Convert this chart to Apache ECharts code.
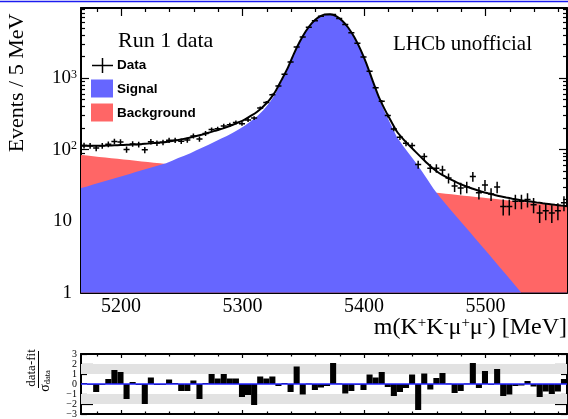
<!DOCTYPE html>
<html><head><meta charset="utf-8">
<script src="https://cdn.jsdelivr.net/npm/echarts@6/dist/echarts.min.js"></script>
<style>html,body{margin:0;padding:0;background:#fff}#c{width:568px;height:419px}</style>
</head><body><div id="c"></div>
<script>
// ---------------- data ----------------
const binCenters = [
5169.5,5174.5,5179.5,5184.5,5189.5,5194.5,5199.5,5204.5,5209.5,5214.5,
5219.5,5224.5,5229.5,5234.5,5239.5,5244.5,5249.5,5254.5,5259.5,5264.5,
5269.5,5274.5,5279.5,5284.5,5289.5,5294.5,5299.5,5304.5,5309.5,5314.5,
5319.5,5324.5,5329.5,5334.5,5339.5,5344.5,5349.5,5354.5,5359.5,5364.5,
5369.5,5374.5,5379.5,5384.5,5389.5,5394.5,5399.5,5404.5,5409.5,5414.5,
5419.5,5424.5,5429.5,5434.5,5439.5,5444.5,5449.5,5454.5,5459.5,5464.5,
5469.5,5474.5,5479.5,5484.5,5489.5,5494.5,5499.5,5504.5,5509.5,5514.5,
5519.5,5524.5,5529.5,5534.5,5539.5,5544.5,5549.5,5554.5,5559.5,5564.5];
const dataCounts = [
114,113,105,113,119,130,128,100,120,118,
99,129,123,126,135,135,131,136,155,140,
168,190,195,214,222,239,230,259,275,380,
455,581,770,1129,1672,2707,3728,5124,6328,7284,
7718,7734,6800,5567,4268,3046,1961,1237,728,472,
298,194,148,122,114,62,80,55,55,52,
40,31,29,30,42,25,32,24,30,16,
16,19,19,20,17,13,14,13,14,18];
const curveMass = [
5167,5172,5177,5182,5187,5192,5197,5202,5207,5212,
5217,5222,5227,5232,5237,5242,5247,5252,5257,5262,
5267,5272,5277,5282,5287,5292,5297,5302,5307,5312,
5317,5322,5327,5332,5337,5342,5347,5352,5357,5362,
5367,5372,5377,5382,5387,5392,5397,5402,5407,5412,
5417,5422,5427,5432,5437,5442,5447,5452,5457,5462,
5467,5472,5477,5482,5487,5492,5497,5502,5507,5512,
5517,5522,5527,5532,5537,5542,5547,5552,5557,5562,5567];
const signalCurve = [
29,30.5,32.4,34.3,36.3,38.5,40.7,43.2,45.7,48.4,
51.3,54.3,57.5,61,64.6,70,75.9,82.2,89.1,97.7,
107,117,129,141,155,172,192,217,250,292,
355,447,603,891,1318,2100,3162,4457,5794,6934,
7638,7762,7278,6281,5000,3664,2477,1545,890,520,
335,223,150,113,87.1,67.6,51.5,38.5,28.6,22,
17.5,13.9,11.1,8.83,7.03,5.6,4.46,3.55,2.82,2.24,
1.78,1.41,1.12,0.89,0.71,0.56,0.45,0.35,0.28,0.22,0.18];
const backgroundCurve = [
84,82.3,80.6,78.9,77.3,75.7,74.2,72.6,71.2,69.7,
68.3,66.9,65.5,64.2,62.8,61.5,60.3,59.1,57.8,56.7,
55.5,54.4,53.2,52.1,51.1,50,49,48,47,46.1,
45.1,44.2,43.3,42.4,41.5,40.7,39.8,39,38.2,37.4,
36.7,35.9,35.2,34.4,33.7,33,32.4,31.7,31,30.4,
29.8,29.2,28.6,28,27.4,26.8,26.3,25.7,25.2,24.7,
24.2,23.7,23.2,22.7,22.2,21.8,21.3,20.9,20.5,20,
19.6,19.2,18.8,18.4,18.1,17.7,17.3,17,16.6,16.3,16];
const pulls = [
0.1,0.0,-0.8,0.0,0.5,1.4,1.2,-1.5,0.2,-0.1,
-2.0,0.65,-0.1,0.0,0.45,0.1,-0.7,-0.7,0.35,-1.5,
0.1,1.0,0.55,1.0,0.55,0.55,-1.3,-1.1,-2.1,0.75,
0.55,0.75,-0.2,0.1,-0.8,1.75,-1.05,0.05,-0.6,-0.35,
-0.2,2.1,0.05,-0.95,-0.7,0.0,-0.6,0.95,0.65,1.2,
-0.3,-1.2,-0.8,-0.4,0.95,-2.6,1.05,-0.55,0.6,1.1,
0.05,-0.9,-0.7,0.05,2.1,-0.4,1.3,0.0,1.5,-1.2,
-1.05,-0.2,-0.15,0.3,-0.25,-1.3,-0.75,-1.0,-0.75,0.5];
const xMajorTicks = [5200,5300,5400,5500];
const xMinorTicks = [5180,5220,5240,5260,5280,5320,5340,5360,5380,5420,5440,5460,5480,5520,5540,5560];
const yMajorTicks = [1,10,100,1000];
const yMinorTicks = [2,3,4,5,6,7,8,9,20,30,40,50,60,70,80,90,200,300,400,500,600,700,800,900,2000,3000,4000,5000,6000,7000,8000,9000];
const pullLabels = [-3,-2,-1,0,1,2,3];
const pullMajorTicks = [-2,2];
const pullMinorTicks = [-3,-1,1,3];
const pullBands = [[1,2],[-2,-1]];

// ---------------- setup ----------------
const XMIN = 5167, XMAX = 5567, YMIN = 1, YMAX = 9500;
const BIN_HALF = 2.5;
const SERIF = '"Liberation Serif","Times New Roman",serif';
const SANS = '"Liberation Sans",Arial,sans-serif';
const chart = echarts.init(document.getElementById('c'), null, {renderer:'canvas'});

function xAx(grid, pos, ticks, len, line, label){
  return {type:'value', gridIndex:grid, position:pos, min:XMIN, max:XMAX,
    axisLine:{show:line, onZero:false, lineStyle:{color:'#000', width:2}},
    axisTick:{show:true, inside:true, length:len, customValues:ticks, lineStyle:{color:'#000', width:1.2}},
    axisLabel: label || {show:false},
    splitLine:{show:false}, minorTick:{show:false}};
}
function yAxLog(pos, ticks, len, line, label){
  return {type:'log', logBase:10, gridIndex:0, position:pos, min:YMIN, max:YMAX,
    axisLine:{show:line, onZero:false, lineStyle:{color:'#000', width:2}},
    axisTick:{show:true, inside:true, length:len, customValues:ticks, lineStyle:{color:'#000', width:1.2}},
    axisLabel: label || {show:false},
    splitLine:{show:false}, minorTick:{show:false}};
}
function yAxPull(pos, ticks, len, line, label){
  return {type:'value', gridIndex:1, position:pos, min:-3, max:3,
    axisLine:{show:line, onZero:false, lineStyle:{color:'#000', width:2}},
    axisTick:{show:true, inside:true, length:len, customValues:ticks, lineStyle:{color:'#000', width:1.2}},
    axisLabel: label || {show:false},
    splitLine:{show:false}, minorTick:{show:false}};
}

function areaRenderer(values, color){
  return function(params, api){
    if (params.dataIndex !== 0) return null;
    const pts = curveMass.map((m,k)=>api.coord([m, values[k]]));
    pts.push(api.coord([curveMass[curveMass.length-1], YMIN]));
    pts.push(api.coord([curveMass[0], YMIN]));
    return {type:'polygon', shape:{points:pts}, style:{fill:color}};
  };
}
function dataRenderer(params, api){
  const m = api.value(0), n = api.value(1), e = Math.sqrt(n);
  const c = api.coord([m, n]);
  const t = api.coord([m, n+e]);
  const b = api.coord([m, Math.max(n-e, YMIN)]);
  const l = api.coord([m-BIN_HALF, n]);
  const r = api.coord([m+BIN_HALF, n]);
  return {type:'group', children:[
    {type:'line', shape:{x1:c[0], y1:t[1], x2:c[0], y2:b[1]}, style:{stroke:'#000', lineWidth:1.5}},
    {type:'line', shape:{x1:l[0], y1:c[1], x2:r[0], y2:c[1]}, style:{stroke:'#000', lineWidth:1.5}}]};
}
function pullRenderer(params, api){
  const m = api.value(0), p = api.value(1);
  const a = api.coord([m-BIN_HALF, 0]), b = api.coord([m+BIN_HALF, p]);
  return {type:'rect', shape:{x:Math.min(a[0],b[0]), y:Math.min(a[1],b[1]),
    width:Math.abs(b[0]-a[0]), height:Math.max(Math.abs(b[1]-a[1]),0.8)}, style:{fill:'#000'}};
}
function bandRenderer(params, api){
  const lo = api.value(1), hi = api.value(2);
  const a = api.coord([XMIN, hi]), b = api.coord([XMAX, lo]);
  return {type:'rect', shape:{x:a[0], y:a[1], width:b[0]-a[0], height:b[1]-a[1]}, style:{fill:'#e2e2e2'}};
}

const option = {
  animation:false,
  backgroundColor:'#fff',
  grid:[
    {left:81, top:8, width:486, height:284.7, containLabel:false},
    {left:81, top:354, width:486, height:62, containLabel:false}
  ],
  xAxis:[
    xAx(0,'bottom',xMajorTicks,8,true,{show:true, customValues:xMajorTicks, fontFamily:SERIF, fontSize:20, color:'#000', margin:4,
      formatter:function(v){ return String(Math.round(v)); }}),
    xAx(0,'bottom',xMinorTicks,4,false),
    xAx(0,'top',xMajorTicks,8,true),
    xAx(0,'top',xMinorTicks,4,false),
    xAx(1,'bottom',xMajorTicks,4,true),
    xAx(1,'bottom',xMinorTicks,2.5,false),
    xAx(1,'top',xMajorTicks,4,true),
    xAx(1,'top',xMinorTicks,2.5,false)
  ],
  yAxis:[
    yAxLog('left',yMajorTicks,8,true,{show:true, customValues:yMajorTicks, margin:4, color:'#000',
      fontFamily:SERIF, fontSize:19,
      formatter:function(v){ const e = Math.round(Math.log10(v)); return e < 2 ? '{n|'+Math.round(v)+'}{sp| }' : '{n|10}{s|'+e+'}'; },
      rich:{n:{fontFamily:SERIF, fontSize:19, color:'#000'}, s:{fontFamily:SERIF, fontSize:12, color:'#000', verticalAlign:'top'}, sp:{width:5, fontSize:12}}}),
    yAxLog('left',yMinorTicks,4,false),
    yAxLog('right',yMajorTicks,8,true),
    yAxLog('right',yMinorTicks,4,false),
    yAxPull('left',pullMajorTicks,12,true,{show:true, customValues:pullLabels, margin:4, color:'#000',
      fontFamily:SERIF, fontSize:10, formatter:function(v){ return String(v).replace('-','\u2212'); }}),
    yAxPull('left',pullMinorTicks,6,false),
    yAxPull('right',pullMajorTicks,12,true),
    yAxPull('right',pullMinorTicks,6,false)
  ],
  series:[
    {type:'custom', name:'Background', xAxisIndex:0, yAxisIndex:0, clip:true, silent:true, z:1,
      data:curveMass.map((m,k)=>[m, backgroundCurve[k]]), renderItem:areaRenderer(backgroundCurve,'#ff6666')},
    {type:'custom', name:'Signal', xAxisIndex:0, yAxisIndex:0, clip:true, silent:true, z:2,
      data:curveMass.map((m,k)=>[m, signalCurve[k]]), renderItem:areaRenderer(signalCurve,'#6666ff')},
    {type:'line', name:'Fit', xAxisIndex:0, yAxisIndex:0, symbol:'none', showSymbol:false, smooth:0.2, z:4, silent:true,
      data:curveMass.map((m,k)=>[m, signalCurve[k]+backgroundCurve[k]]), lineStyle:{color:'#000', width:2}},
    {type:'custom', name:'Data', xAxisIndex:0, yAxisIndex:0, clip:true, silent:true, z:5,
      data:binCenters.map((m,i)=>[m, dataCounts[i]]), renderItem:dataRenderer},
    {type:'custom', name:'PullBands', xAxisIndex:4, yAxisIndex:4, clip:true, silent:true, z:1,
      data:pullBands.map(b=>[XMIN, b[0], b[1]]), renderItem:bandRenderer},
    {type:'custom', name:'Pull', xAxisIndex:4, yAxisIndex:4, clip:true, silent:true, z:2,
      data:binCenters.map((m,i)=>[m, pulls[i]]), renderItem:pullRenderer},
    {type:'line', name:'Zero', xAxisIndex:4, yAxisIndex:4, symbol:'none', silent:true, z:3,
      data:[[XMIN,0],[XMAX,0]], lineStyle:{color:'#2020ff', width:1.5}}
  ],
  graphic:[
    {type:'line', z:100, shape:{x1:0, y1:1.5, x2:568, y2:1.5}, style:{stroke:'#1c1cf0', lineWidth:1.5}},
    {type:'text', z:100, x:17, y:83, rotation:Math.PI/2,
      style:{text:'Events / 5 MeV', font:'22px '+SERIF, fill:'#000', textAlign:'center', textVerticalAlign:'middle', align:'center', verticalAlign:'middle'}},
    {type:'text', z:100, x:118, y:41.5,
      style:{text:'Run 1 data', font:'22px '+SERIF, fill:'#000', textAlign:'left', textVerticalAlign:'middle', align:'left', verticalAlign:'middle'}},
    {type:'text', z:100, x:462.5, y:44.5,
      style:{text:'LHCb unofficial', font:'21px '+SERIF, fill:'#000', textAlign:'center', textVerticalAlign:'middle', align:'center', verticalAlign:'middle'}},
    // legend
    {type:'line', z:100, shape:{x1:92, y1:65.5, x2:113, y2:65.5}, style:{stroke:'#000', lineWidth:1.5}},
    {type:'line', z:100, shape:{x1:102.5, y1:58, x2:102.5, y2:73}, style:{stroke:'#000', lineWidth:1.5}},
    {type:'text', z:100, x:117, y:65.5,
      style:{text:'Data', font:'bold 13.5px '+SANS, fill:'#000', textAlign:'left', textVerticalAlign:'middle', align:'left', verticalAlign:'middle'}},
    {type:'rect', z:100, shape:{x:91, y:79.5, width:22, height:18}, style:{fill:'#6666ff'}},
    {type:'text', z:100, x:117, y:89.5,
      style:{text:'Signal', font:'bold 13.5px '+SANS, fill:'#000', textAlign:'left', textVerticalAlign:'middle', align:'left', verticalAlign:'middle'}},
    {type:'rect', z:100, shape:{x:91, y:103.5, width:22, height:18}, style:{fill:'#ff6666'}},
    {type:'text', z:100, x:117, y:113.5,
      style:{text:'Background', font:'bold 13.5px '+SANS, fill:'#000', textAlign:'left', textVerticalAlign:'middle', align:'left', verticalAlign:'middle'}},
    // x title
    {type:'text', z:100, x:567, y:328,
      style:{text:'m(K{s|+}K{s|-}\u03bc{s|+}\u03bc{s|-}) [MeV]', font:'24px '+SERIF, fill:'#000',
        textAlign:'right', textVerticalAlign:'middle', align:'right', verticalAlign:'middle',
        rich:{s:{fontSize:15, fontFamily:SERIF, fill:'#000', verticalAlign:'top'}}}},
    // pull title
    {type:'text', z:100, x:32, y:368, rotation:Math.PI/2,
      style:{text:'data-fit', font:'13px '+SERIF, fill:'#000', textAlign:'center', textVerticalAlign:'middle', align:'center', verticalAlign:'middle'}},
    {type:'line', z:100, shape:{x1:38.5, y1:351, x2:38.5, y2:388}, style:{stroke:'#000', lineWidth:1}},
    {type:'text', z:100, x:45, y:381, rotation:Math.PI/2,
      style:{text:'\u03c3{d|data}', font:'14px '+SERIF, fill:'#000', textAlign:'center', textVerticalAlign:'middle', align:'center', verticalAlign:'middle',
        rich:{d:{fontSize:8.5, fontFamily:SERIF, fill:'#000', verticalAlign:'bottom'}}}}
  ]
};
chart.setOption(option);
</script></body></html>
